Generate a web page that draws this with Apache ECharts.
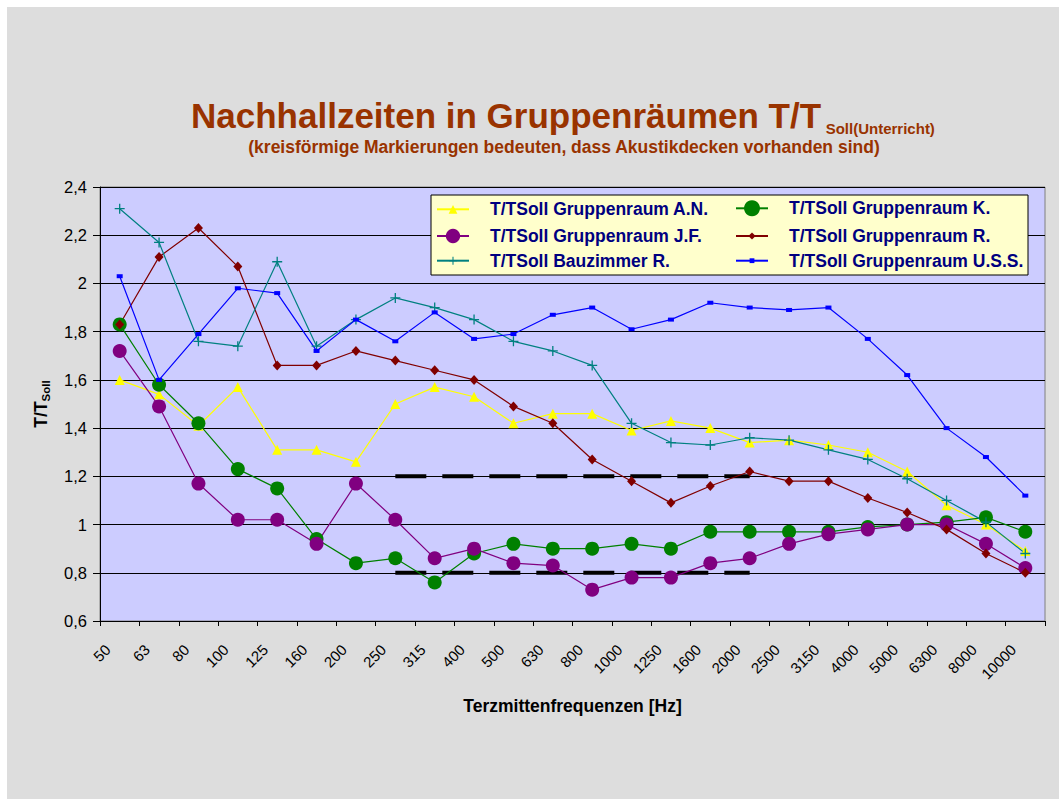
<!DOCTYPE html>
<html><head><meta charset="utf-8">
<script src="https://cdn.jsdelivr.net/npm/echarts@6/dist/echarts.min.js"></script>
<style>html,body{margin:0;padding:0;background:#fff;}#c{position:absolute;left:7px;top:7px;width:1052px;height:792px;}</style>
</head><body><div id="c"></div>
<script>
const categories = ['50','63','80','100','125','160','200','250','315','400','500','630','800','1000','1250','1600','2000','2500','3150','4000','5000','6300','8000','10000'];
const seriesNames = ['T/TSoll Gruppenraum A.N.','T/TSoll Gruppenraum K.','T/TSoll Gruppenraum J.F.','T/TSoll Gruppenraum R.','T/TSoll Bauzimmer R.','T/TSoll Gruppenraum U.S.S.'];
const valuesAN  = [1.60,1.54,1.41,1.57,1.31,1.31,1.26,1.50,1.57,1.53,1.42,1.46,1.46,1.39,1.43,1.40,1.34,1.35,1.33,1.30,1.22,1.08,1.00,0.89];
const valuesK   = [1.83,1.58,1.42,1.23,1.15,0.94,0.84,0.86,0.76,0.88,0.92,0.90,0.90,0.92,0.90,0.97,0.97,0.97,0.97,0.99,1.00,1.01,1.03,0.97];
const valuesJF  = [1.72,1.49,1.17,1.02,1.02,0.92,1.17,1.02,0.86,0.90,0.84,0.83,0.73,0.78,0.78,0.84,0.86,0.92,0.96,0.98,1.00,1.00,0.92,0.82];
const valuesR   = [1.83,2.11,2.23,2.07,1.66,1.66,1.72,1.68,1.64,1.60,1.49,1.42,1.27,1.18,1.09,1.16,1.22,1.18,1.18,1.11,1.05,0.98,0.88,0.80];
const valuesBZ  = [2.31,2.17,1.76,1.74,2.09,1.74,1.85,1.94,1.90,1.85,1.76,1.72,1.66,1.42,1.34,1.33,1.36,1.35,1.31,1.27,1.19,1.10,1.01,0.88];
const valuesUSS = [2.03,1.60,1.79,1.98,1.96,1.72,1.85,1.76,1.88,1.77,1.79,1.87,1.90,1.81,1.85,1.92,1.90,1.89,1.90,1.77,1.62,1.40,1.28,1.12];
const limitUpper = [null,null,null,null,null,null,null,1.2,1.2,1.2,1.2,1.2,1.2,1.2,1.2,1.2,1.2,null,null,null,null,null,null,null];
const limitLower = [null,null,null,null,null,null,null,0.8,0.8,0.8,0.8,0.8,0.8,0.8,0.8,0.8,0.8,null,null,null,null,null,null,null];
const yMin = 0.6, yMax = 2.4, yStep = 0.2;

const F = '"Liberation Sans", Arial, sans-serif';
const OX = 7, OY = 7;
const PLUS = 'path://M0,8.7H20V11.3H0Z M8.7,0H11.3V20H8.7Z';

function mk(name, data, color, symbol, size) {
  return {name, type:'line', data, symbol, symbolSize:size, showSymbol:true, showAllSymbol:true,
    itemStyle:{color, borderWidth:0}, lineStyle:{color, width:1.2}, emphasis:{disabled:true}, animation:false, z:2};
}
function dash(name, data) {
  return {name, type:'line', data, symbol:'none', silent:true, connectNulls:false,
    lineStyle:{color:'#000', width:4, type:[31,16], cap:'butt'}, emphasis:{disabled:true}, animation:false, z:2};
}

const legendSpec = [
  [seriesNames[0], 436, 209.3, 11],
  [seriesNames[2], 436, 236.0, 18],
  [seriesNames[4], 436, 260.7, 10],
  [seriesNames[1], 735, 209.3, 20],
  [seriesNames[3], 735, 236.0, 9],
  [seriesNames[5], 735, 260.7, 6]
];
const legends = legendSpec.map(([n, x, cy, h]) => ({
  data:[n], orient:'horizontal', left:x-OX, top:cy-OY-Math.max(h,18)/2, padding:0,
  itemWidth:32, itemHeight:h, selectedMode:false, z:4,
  textStyle:{fontFamily:F, fontSize:17.5, fontWeight:'bold', color:'#000080', lineHeight:18, padding:[0,0,0,16]}
}));

const chart = echarts.init(document.getElementById('c'), null, {renderer:'svg'});
chart.setOption({
  backgroundColor:'#DDDDDD',
  animation:false,
  grid:{left:100-OX, right:14, top:180, bottom:178, show:true, backgroundColor:'#CCCCFF', borderColor:'#808080', borderWidth:1, containLabel:false, outerBoundsMode:'none'},
  legend: legends,
  xAxis:{type:'category', data:categories, boundaryGap:true,
    name:'Terzmittenfrequenzen [Hz]', nameLocation:'middle', nameGap:76,
    nameTextStyle:{fontFamily:F, fontSize:17.5, fontWeight:'bold', color:'#000'},
    axisLine:{show:true, lineStyle:{color:'#000', width:1}},
    axisTick:{show:true, length:5, interval:0, alignWithLabel:false, lineStyle:{color:'#000'}},
    axisLabel:{interval:0, rotate:45, fontSize:15, color:'#000', margin:14, padding:[0,17,0,0], fontFamily:F, hideOverlap:false},
    splitLine:{show:false}},
  yAxis:{type:'value', min:yMin, max:yMax, interval:yStep,
    name:'{a|T/T}{b|Soll}', nameLocation:'middle', nameGap:48, nameRotate:90,
    nameTextStyle:{rich:{
      a:{fontFamily:F, fontSize:17.5, fontWeight:'bold', color:'#000', lineHeight:22},
      b:{fontFamily:F, fontSize:11.5, fontWeight:'bold', color:'#000', lineHeight:11.5, verticalAlign:'bottom'}}},
    axisLine:{show:true, lineStyle:{color:'#000', width:1}},
    axisTick:{show:true, length:7, lineStyle:{color:'#000'}},
    axisLabel:{fontSize:16.5, color:'#000', margin:13, fontFamily:F,
      formatter:v => String(Math.round(v*10)/10).replace('.', ',')},
    splitLine:{show:true, lineStyle:{color:'#000', width:1}}},
  graphic:[
    {type:'rect', z:3, shape:{x:431-OX, y:195-OY, width:597, height:80}, style:{fill:'#FFFFCC', stroke:'#000', lineWidth:1}},
    {type:'text', z:5, x:191-OX, y:115.2-OY, style:{text:'Nachhallzeiten in Gruppenräumen T/T', fontFamily:F, fontSize:35, fontWeight:'bold', fill:'#993300', align:'left', verticalAlign:'middle'}},
    {type:'text', z:5, x:825.7-OX, y:128.1-OY, style:{text:'Soll(Unterricht)', fontFamily:F, fontSize:15, fontWeight:'bold', fill:'#993300', align:'left', verticalAlign:'middle'}},
    {type:'text', z:5, x:564-OX, y:147.2-OY, style:{text:'(kreisförmige Markierungen bedeuten, dass Akustikdecken vorhanden sind)', fontFamily:F, fontSize:17.5, fontWeight:'bold', fill:'#993300', align:'center', verticalAlign:'middle'}}
  ],
  series:[
    dash('Grenze oben', limitUpper),
    dash('Grenze unten', limitLower),
    mk(seriesNames[0], valuesAN, '#FFFF00', 'triangle', 10),
    mk(seriesNames[1], valuesK, '#008000', 'circle', 14),
    mk(seriesNames[2], valuesJF, '#800080', 'circle', 14),
    mk(seriesNames[3], valuesR, '#800000', 'diamond', [9,10]),
    mk(seriesNames[4], valuesBZ, '#008080', PLUS, 10),
    mk(seriesNames[5], valuesUSS, '#0000FF', 'rect', [6,4])
  ]
});
</script></body></html>
